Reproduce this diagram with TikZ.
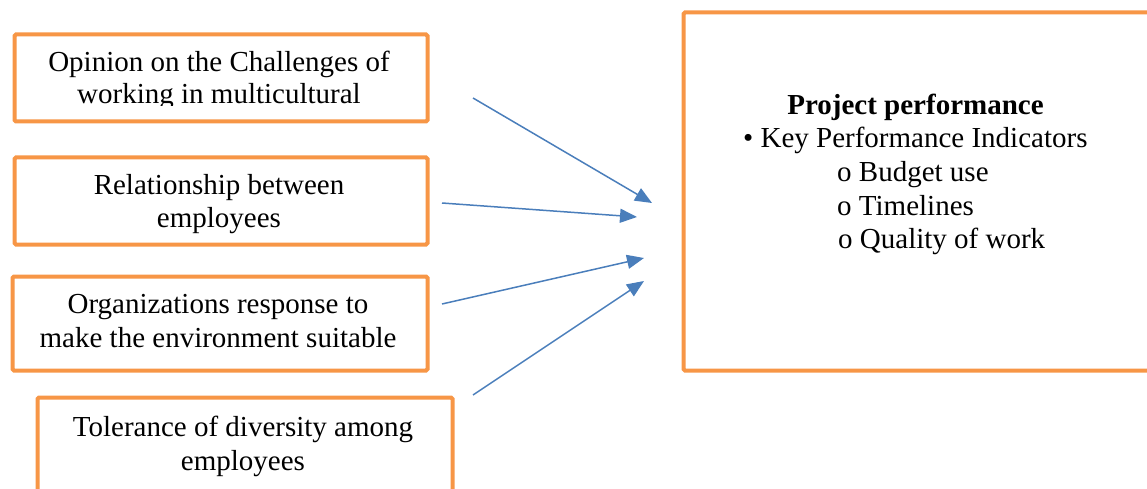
\documentclass[tikz,border=0pt]{standalone}
\usepackage{fontspec}
\setmainfont{Liberation Serif}
\usetikzlibrary{arrows.meta}
\definecolor{boxorange}{HTML}{F79646}
\definecolor{arrowblue}{HTML}{4A7EBB}
\begin{document}
\begin{tikzpicture}[x=1pt,y=-1pt,
  boxstyle/.style={draw=boxorange, line width=4pt, rounded corners=1.5pt, inner sep=0pt, anchor=north west, fill=white},
  txt/.style={font=\fontsize{29}{33}\selectfont, inner sep=0pt, anchor=base},
  txtl/.style={txt, anchor=base west},
  conn/.style={draw=arrowblue, line width=1.5pt, -{Triangle[length=17pt,width=14pt]}}]
\clip (0,0) rectangle (1147,489);
% left boxes
\node[boxstyle, minimum width=413pt, minimum height=87pt] (b1) at (12.5,32.5) {};
\node[boxstyle, minimum width=413pt, minimum height=87pt] (b2) at (12.5,155.5) {};
\node[boxstyle, minimum width=415pt, minimum height=94pt] (b3) at (10.5,274.5) {};
\node[boxstyle, minimum width=415pt, minimum height=110pt] (b4) at (35.5,395.5) {};
% right box
\node[boxstyle, minimum width=480pt, minimum height=358pt] (pp) at (681.5,10.5) {};
% texts
\begin{scope}
\clip (15,35) rectangle (423,106);
\node[txt] (t1a) at (219,72) {Opinion on the Challenges of};
\node[txt] (t1b) at (219,104) {working in multicultural};
\end{scope}
\node[txt] (t2a) at (219,194) {Relationship between};
\node[txt] (t2b) at (219,227) {employees};
\node[txt] (t3a) at (218,313) {Organizations response to};
\node[txt] (t3b) at (218,347) {make the environment suitable};
\node[txt] (t4a) at (243,436) {Tolerance of diversity among};
\node[txt] (t4b) at (243,470) {employees};
\node[txt, font=\fontsize{29}{33}\selectfont\bfseries] (pt) at (915.5,115) {Project performance};
\node[txtl] (k1) at (743,148) {• Key Performance Indicators};
\node[txtl] (k2) at (837,182) {o Budget use};
\node[txtl] (k3) at (837,215) {o Timelines};
\node[txtl] (k4) at (838,248) {o Quality of work};
% arrows
\coordinate (s1) at (473,98);  \coordinate (e1) at (652,203);
\coordinate (s2) at (442,203); \coordinate (e2) at (637,217);
\coordinate (s3) at (442,304); \coordinate (e3) at (644,258);
\coordinate (s4) at (473,395); \coordinate (e4) at (644,281);
\draw[conn] (s1) -- (e1);
\draw[conn] (s2) -- (e2);
\draw[conn] (s3) -- (e3);
\draw[conn] (s4) -- (e4);
\end{tikzpicture}
\end{document}
